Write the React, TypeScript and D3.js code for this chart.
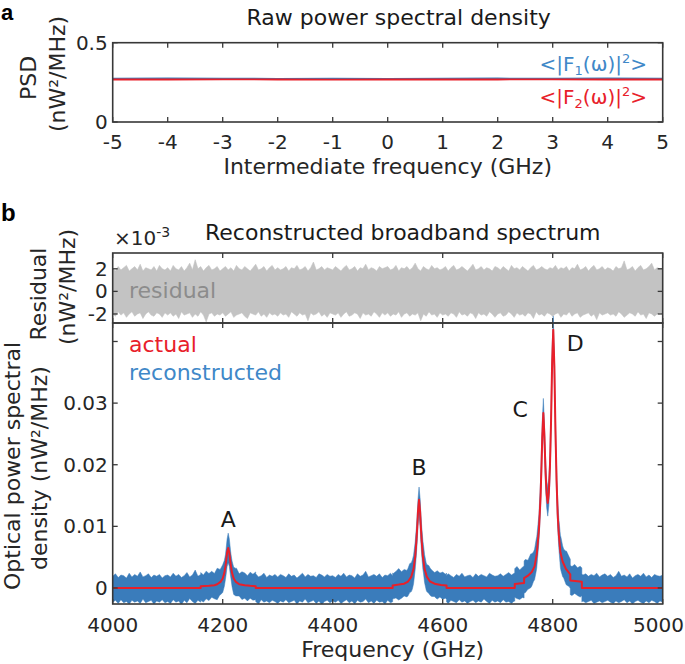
import React from 'react';
import * as d3 from 'd3';

const FONT = '"DejaVu Sans", Verdana, sans-serif';
const BLUE = '#3a7cbb';
const BLUE_TEXT = '#3f88c8';
const RED = '#e8202a';
const GRAY = '#c3c3c3';
const AXIS = '#383838';

// ---------- panel a : raw power spectral density ----------
const ifFreqGHz = [-5, -4, -3, -2, -1, 0, 1, 2, 3, 4, 5];
const psdF1 = [0.272, 0.273, 0.272, 0.271, 0.272, 0.271, 0.272, 0.273, 0.272, 0.273, 0.272];
const psdF2 = [0.268, 0.268, 0.269, 0.268, 0.267, 0.268, 0.268, 0.268, 0.269, 0.268, 0.268];
const ifTicks = [-5, -4, -3, -2, -1, 0, 1, 2, 3, 4, 5];
const psdTicks = [0, 0.5];
const psdTickLabels = ['0', '0.5'];

// ---------- panel b : reconstructed broadband spectrum ----------
const freqTicks = [4000, 4200, 4400, 4600, 4800, 5000];
const specTicks = [0, 10, 20, 30, 40]; // in 1e-3 nW²/MHz
const specTickLabels = ['0', '0.01', '0.02', '0.03', ''];
const resTicks = [-2, 0, 2];
const resTickLabels = ['-2', '0', '2'];

// actual spectrum (GHz, 1e-3 nW²/MHz)
const actualFreq = [
  4000, 4160, 4160, 4175, 4185, 4190, 4196, 4200, 4203, 4205, 4206, 4208, 4210, 4212, 4214, 4215, 4217, 4220, 4224, 4230, 4240, 4250, 4260, 4260,
  4509, 4509, 4520, 4530, 4537, 4543, 4547, 4550, 4552, 4554, 4555, 4557, 4559, 4560, 4562, 4564, 4567, 4571, 4577, 4587, 4597, 4607, 4607,
  4731, 4731, 4748, 4748, 4755, 4762, 4767, 4771, 4775, 4778, 4780, 4781, 4783, 4785, 4787, 4789, 4791, 4793, 4795, 4797, 4799, 4801,
  4803, 4805, 4807, 4809, 4811, 4814, 4818, 4824, 4832, 4832, 4853, 4853, 5000,
];
const actualVal = [
  0, 0, 0.3, 0.35, 0.45, 0.6, 0.98, 1.55, 2.45, 3.5, 4.2, 5.75, 6.5, 5.75, 4.2, 3.5, 2.45, 1.55, 0.98, 0.6, 0.45, 0.35, 0.3, 0,
  0, 0.42, 0.55, 0.7, 1.05, 1.85, 3.1, 5.1, 7.4, 10.3, 12.3, 14.3, 12.3, 10.3, 7.4, 5.1, 3.1, 1.85, 1.05, 0.64, 0.5, 0.42, 0,
  0, 0.65, 0.8, 1.6, 2.0, 2.6, 3.5, 5.5, 9.5, 15.0, 21.0, 24.5, 28.4, 24.5, 18.8, 15.2, 13.8, 15.6, 19.7, 27.0, 36.7, 41.9,
  36.0, 25.6, 17.5, 12.1, 8.8, 5.8, 4.3, 3.1, 2.2, 1.2, 1.0, 0, 0,
];

// noise envelope of the reconstructed spectrum around the actual one, every 5 GHz from 4000 GHz (1e-3 nW²/MHz)
const gridStart = 4000;
const gridStep = 5;
const reconNoiseUp = [
  1.9, 2.3, 1.7, 2.1, 2.0, 1.6, 2.4, 1.8, 2.2, 1.9, 2.6, 1.8, 2.0, 2.3, 1.7, 2.1, 1.9, 2.2, 1.6, 2.0,
  2.1, 1.8, 2.4, 1.9, 2.2, 1.7, 2.0, 2.5, 1.8, 2.1, 2.9, 1.9, 2.2, 1.8, 2.4, 2.0, 2.3, 1.9, 2.6, 2.1,
  2.2, 1.9, 2.4, 2.0, 1.8, 2.3, 1.7, 2.1, 2.0, 1.6, 2.2, 1.9, 2.3, 1.8, 2.0, 2.4, 1.7, 2.1, 1.9, 2.2,
  1.8, 2.2, 2.0, 1.7, 2.3, 1.9, 2.1, 1.6, 2.0, 2.4, 1.8, 2.2, 1.9, 2.0, 1.7, 2.3, 2.1, 1.8, 2.2, 1.9,
  2.0, 1.7, 2.2, 1.9, 2.4, 1.8, 2.1, 2.0, 1.6, 2.3, 1.9, 2.1, 2.7, 1.8, 2.0, 2.2, 1.9, 2.3, 1.7, 2.1,
  2.0, 2.4, 1.9, 2.2, 2.6, 2.0, 2.3, 1.9, 2.5, 2.1, 2.4, 2.0, 2.2, 2.6, 1.9, 2.3, 2.0, 1.8, 2.2, 1.9,
  2.1, 1.8, 2.3, 2.0, 1.7, 2.2, 1.9, 2.4, 1.8, 2.0, 2.1, 1.7, 2.3, 1.9, 2.2, 2.0, 1.8, 2.4, 2.1, 1.9,
  2.0, 2.3, 1.9, 2.2, 2.5, 2.1, 2.4, 2.8, 2.2, 2.6, 2.9, 2.5, 3.1, 2.7, 2.9, 2.4, 2.6, 2.2, 2.4, 2.0,
  2.3, 2.0, 2.5, 2.8, 2.4, 3.0, 2.6, 2.3, 2.7, 2.2, 2.5, 2.1, 2.3, 1.9, 2.2, 2.0, 2.4, 1.8, 2.1, 2.3,
  1.9, 2.2, 1.7, 2.0, 2.7, 1.9, 2.1, 1.8, 2.3, 1.6, 2.0, 2.2, 1.9, 2.4, 1.8, 2.1, 1.7, 2.2, 2.0, 1.9,
  2.1,
];
const reconNoiseDn = [
  2.3, 2.0, 2.5, 1.9, 2.4, 2.2, 2.6, 2.0, 2.3, 2.1, 2.5, 1.8, 2.4, 2.2, 2.0, 2.6, 2.1, 2.3, 1.9, 2.4,
  2.2, 2.5, 1.9, 2.3, 2.1, 2.7, 2.0, 2.4, 1.7, 2.2, 2.5, 2.0, 2.3, 2.6, 2.1, 2.4, 1.9, 2.2, 2.5, 2.0,
  2.3, 2.1, 2.4, 2.0, 2.6, 2.2, 1.9, 2.4, 2.1, 2.5, 2.0, 2.3, 2.2, 2.6, 1.9, 2.3, 2.1, 2.4, 2.0, 2.2,
  2.5, 2.1, 2.3, 1.9, 2.4, 2.2, 2.0, 2.6, 2.1, 2.3, 1.8, 2.4, 2.2, 2.0, 2.5, 2.1, 2.7, 2.2, 2.0, 2.4,
  2.1, 2.3, 2.0, 2.5, 2.2, 1.9, 2.4, 2.1, 2.6, 2.0, 2.3, 2.2, 1.8, 2.4, 2.1, 2.5, 2.0, 2.3, 2.2, 2.6,
  2.0, 2.4, 2.2, 2.1, 2.5, 2.3, 2.0, 2.4, 2.2, 2.6, 2.1, 2.3, 2.4, 2.0, 2.5, 2.2, 2.3, 2.1, 2.4, 2.0,
  2.3, 2.1, 2.5, 2.0, 2.2, 2.4, 1.9, 2.3, 2.1, 2.5, 2.2, 2.0, 2.4, 2.1, 2.3, 1.8, 2.2, 2.5, 2.0, 2.3,
  2.1, 2.4, 1.9, 2.3, 2.2, 2.5, 2.1, 2.4, 2.6, 2.3, 2.5, 2.2, 2.4, 2.1, 2.3, 2.0, 2.2, 2.4, 2.1, 2.3,
  2.2, 2.4, 2.1, 2.6, 2.3, 2.5, 2.2, 2.4, 2.0, 2.3, 2.5, 2.1, 2.4, 2.2, 2.0, 2.5, 2.3, 2.1, 2.4, 2.2,
  2.0, 2.3, 2.5, 2.1, 2.4, 2.2, 1.9, 2.4, 2.1, 2.6, 2.2, 2.0, 2.3, 2.5, 2.1, 2.4, 2.0, 2.2, 2.5, 2.1,
  2.3,
];
// residual envelope, every 5 GHz (1e-3 nW²/MHz)
const residualUp = [
  2.0, 1.8, 2.2, 1.9, 2.1, 2.3, 1.8, 2.0, 2.2, 1.9, 2.4, 1.8, 2.1, 2.0, 1.9, 2.2, 1.8, 2.3, 2.0, 1.9,
  2.1, 1.8, 2.3, 2.0, 1.9, 2.2, 1.8, 2.1, 2.5, 1.9, 2.8, 2.0, 2.2, 1.8, 2.1, 2.3, 1.9, 2.0, 2.2, 1.8,
  2.0, 2.2, 1.9, 2.1, 1.8, 2.3, 2.0, 1.9, 2.2, 2.0, 1.8, 2.1, 2.4, 1.9, 2.0, 2.2, 1.8, 2.1, 2.3, 1.9,
  2.1, 1.9, 2.0, 2.2, 1.8, 2.1, 2.0, 2.3, 1.9, 2.0, 2.2, 1.8, 2.1, 2.6, 1.9, 2.0, 2.2, 1.9, 2.1, 2.0,
  1.9, 2.2, 2.0, 1.8, 2.1, 2.3, 1.9, 2.0, 2.2, 1.8, 2.1, 2.0, 2.4, 1.9, 2.1, 2.0, 1.8, 2.2, 2.0, 2.1,
  2.2, 1.9, 2.0, 2.3, 1.8, 2.1, 2.0, 2.2, 1.9, 2.1, 2.5, 2.0, 1.8, 2.2, 2.0, 1.9, 2.3, 2.0, 2.1, 1.9,
  2.0, 2.2, 1.8, 2.1, 2.3, 1.9, 2.0, 2.2, 2.0, 1.8, 2.1, 2.4, 1.9, 2.0, 2.2, 1.9, 2.1, 2.0, 1.8, 2.2,
  2.1, 1.9, 2.2, 2.0, 1.8, 2.3, 2.0, 2.1, 1.9, 2.2, 2.0, 1.8, 2.1, 2.3, 1.9, 2.0, 2.2, 2.0, 1.9, 2.1,
  2.0, 2.3, 1.9, 2.1, 2.0, 2.2, 1.8, 2.1, 2.0, 2.4, 1.9, 2.0, 2.2, 1.8, 2.1, 2.3, 1.9, 2.0, 2.2, 1.9,
  2.1, 2.0, 1.8, 2.2, 2.0, 2.1, 2.7, 1.9, 2.0, 2.2, 1.8, 2.1, 2.3, 1.9, 2.0, 2.2, 2.5, 1.9, 2.1, 2.0,
  2.0,
];
const residualDn = [
  -2.0, -2.2, -1.8, -2.1, -1.9, -2.3, -2.0, -1.8, -2.2, -2.0, -1.9, -2.4, -2.0, -1.8, -2.1, -2.2, -1.9, -2.0, -2.3, -1.9,
  -2.1, -1.9, -2.2, -2.0, -2.4, -1.8, -2.1, -2.0, -1.9, -2.3, -2.0, -2.2, -1.8, -2.1, -2.7, -2.0, -1.9, -2.2, -2.0, -2.1,
  -1.9, -2.2, -2.0, -1.8, -2.3, -2.1, -2.0, -1.9, -2.2, -2.4, -1.9, -2.0, -2.1, -1.8, -2.2, -2.0, -2.3, -1.9, -2.1, -2.0,
  -2.2, -1.9, -2.1, -2.0, -2.3, -1.8, -2.0, -2.2, -1.9, -2.1, -2.0, -2.6, -1.9, -2.1, -2.0, -1.8, -2.2, -2.0, -2.3, -1.9,
  -2.0, -2.1, -1.9, -2.3, -2.0, -1.8, -2.2, -2.1, -1.9, -2.0, -2.4, -1.9, -2.1, -2.0, -2.2, -1.8, -2.0, -2.3, -1.9, -2.1,
  -1.9, -2.2, -2.0, -2.1, -1.8, -2.3, -2.0, -1.9, -2.2, -2.0, -2.1, -1.9, -2.6, -2.0, -2.2, -1.8, -2.1, -2.0, -2.3, -1.9,
  -2.1, -2.0, -2.2, -1.9, -2.0, -2.3, -1.8, -2.1, -2.0, -2.2, -1.9, -2.0, -2.4, -1.9, -2.1, -2.0, -2.2, -1.8, -2.0, -2.3,
  -2.0, -1.9, -2.2, -2.1, -1.8, -2.0, -2.3, -1.9, -2.1, -2.0, -2.2, -1.9, -2.0, -2.4, -1.8, -2.1, -2.0, -2.2, -1.9, -2.0,
  -2.2, -2.0, -1.9, -2.3, -2.0, -2.1, -1.8, -2.2, -2.0, -1.9, -2.3, -2.1, -2.0, -1.9, -2.2, -2.0, -2.5, -1.9, -2.1, -2.0,
  -1.9, -2.1, -2.0, -2.2, -1.8, -2.0, -2.3, -2.1, -1.9, -2.0, -2.2, -1.8, -2.1, -2.0, -2.4, -1.9, -2.0, -2.2, -2.0, -1.9,
  -2.0,
];

const peakNames = ['A', 'B', 'C', 'D'];
const peakNameFreq = [4210, 4557, 4741, 4841];
const peakNameVal = [9.9, 18.3, 27.8, 38.5];

// ---------- layout ----------
const W = 685;
const H = 664;
const X0 = 112.7;
const X1 = 662.7;
const A_TOP = 42.7;
const A_BOT = 122;
const R_TOP = 253;
const R_BOT = 323;
const M_TOP = 323;
const M_BOT = 604;
const TICK = 5;

const xA = d3.scaleLinear().domain([-5, 5]).range([X0, X1]);
const yA = d3.scaleLinear().domain([0, 0.5]).range([A_BOT, A_TOP]);
const xB = d3.scaleLinear().domain([4000, 5000]).range([X0, X1]);
const yR = d3.scaleLinear().domain([-2.8, 3.4]).range([R_BOT, R_TOP]);
const yM = d3.scaleLinear().domain([-2.6, 43]).range([M_BOT, M_TOP]);

function interpAt(fs: number[], vs: number[], f: number) {
  const n = fs.length;
  const i = d3.bisectRight(fs, f);
  if (i <= 0) return vs[0];
  if (i >= n) return vs[n - 1];
  const f0 = fs[i - 1];
  const f1 = fs[i];
  if (f1 === f0) return vs[i];
  return vs[i - 1] + ((vs[i] - vs[i - 1]) * (f - f0)) / (f1 - f0);
}
const gridFreq = reconNoiseUp.map((_, i) => gridStart + i * gridStep);

type BandPt = { f: number; lo: number; hi: number };
const reconBand: BandPt[] = (() => {
  const pts: { f: number; v: number }[] = [];
  actualFreq.forEach((f, i) => pts.push({ f, v: actualVal[i] }));
  gridFreq.forEach((f) => pts.push({ f, v: interpAt(actualFreq, actualVal, f) }));
  pts.sort((a, b) => a.f - b.f);
  return pts.map((p) => ({
    f: p.f,
    hi: p.v + interpAt(gridFreq, reconNoiseUp, p.f),
    lo: p.v - interpAt(gridFreq, reconNoiseDn, p.f),
  }));
})();
const resBand: BandPt[] = gridFreq.map((f, i) => ({ f, lo: residualDn[i], hi: residualUp[i] }));

const reconArea = d3
  .area<BandPt>()
  .x((d) => xB(d.f))
  .y0((d) => yM(d.lo))
  .y1((d) => yM(d.hi));
const resArea = d3
  .area<BandPt>()
  .x((d) => xB(d.f))
  .y0((d) => yR(d.lo))
  .y1((d) => yR(d.hi));
const actualLine = d3
  .line<number>()
  .x((_, i) => xB(actualFreq[i]))
  .y((v) => yM(v));
const psdLine = d3
  .line<number>()
  .x((_, i) => xA(ifFreqGHz[i]))
  .y((v) => yA(v));

function Box({ x0, x1, y0, y1 }: { x0: number; x1: number; y0: number; y1: number }) {
  return <rect x={x0} y={y0} width={x1 - x0} height={y1 - y0} fill="none" stroke={AXIS} strokeWidth={1.6} />;
}

function XTicks({ scale, ticks, y0, y1 }: { scale: any; ticks: number[]; y0: number; y1: number }) {
  return (
    <g stroke={AXIS} strokeWidth={1.3}>
      {ticks.map((t) => (
        <g key={t}>
          <line x1={scale(t)} x2={scale(t)} y1={y1} y2={y1 - TICK} />
          <line x1={scale(t)} x2={scale(t)} y1={y0} y2={y0 + TICK} />
        </g>
      ))}
    </g>
  );
}
function YTicks({ scale, ticks }: { scale: any; ticks: number[] }) {
  return (
    <g stroke={AXIS} strokeWidth={1.3}>
      {ticks.map((t) => (
        <g key={t}>
          <line x1={X0} x2={X0 + TICK} y1={scale(t)} y2={scale(t)} />
          <line x1={X1} x2={X1 - TICK} y1={scale(t)} y2={scale(t)} />
        </g>
      ))}
    </g>
  );
}

const TICK_FS = 20;
const LABEL_FS = 22;
const LEG_FS = 20;

function FLegend({ idx, y, color }: { idx: string; y: number; color: string }) {
  return (
    <text x={647} y={y} fontSize={LEG_FS} textAnchor="end" fill={color}>
      {'<|F'}
      <tspan fontSize={13} dy={4}>{idx}</tspan>
      <tspan dy={-4}>{'(ω)|'}</tspan>
      <tspan fontSize={13} dy={-8}>2</tspan>
      <tspan dy={8}>{'>'}</tspan>
    </text>
  );
}

export default function App() {
  return (
    <svg
      width={W}
      height={H}
      viewBox={`0 0 ${W} ${H}`}
      style={{ position: 'absolute', left: 0, top: 0, display: 'block', background: '#fff' }}
      fontFamily={FONT}
    >
      <defs>
        <clipPath id="clipA">
          <rect x={X0} y={A_TOP} width={X1 - X0} height={A_BOT - A_TOP} />
        </clipPath>
        <clipPath id="clipR">
          <rect x={X0} y={R_TOP} width={X1 - X0} height={R_BOT - R_TOP} />
        </clipPath>
        <clipPath id="clipM">
          <rect x={X0} y={R_TOP + 40} width={X1 - X0} height={M_BOT - R_TOP - 40} />
        </clipPath>
      </defs>

      {/* ---------------- panel a ---------------- */}
      <text x={1} y={20} fontSize={22} fontWeight="bold" fontFamily='"Liberation Sans", Arial, sans-serif'>a</text>
      <text x={(X0 + X1) / 2 + 11} y={25} fontSize={LABEL_FS} textAnchor="middle" fill="#1a1a1a">
        Raw power spectral density
      </text>
      <g clipPath="url(#clipA)">
        <path d={psdLine(psdF1) || ''} fill="none" stroke={BLUE} strokeWidth={2.2} />
        <path d={psdLine(psdF2) || ''} fill="none" stroke={RED} strokeWidth={1.8} />
      </g>
      <XTicks scale={xA} ticks={ifTicks} y0={A_TOP} y1={A_BOT} />
      <YTicks scale={yA} ticks={psdTicks} />
      <Box x0={X0} x1={X1} y0={A_TOP} y1={A_BOT} />
      <g fontSize={TICK_FS} fill="#262626">
        {ifTicks.map((t) => (
          <text key={t} x={xA(t)} y={A_BOT + 27} textAnchor="middle">
            {t}
          </text>
        ))}
        {psdTicks.map((t, i) => (
          <text key={t} x={X0 - 5} y={yA(t) + 7} textAnchor="end">
            {psdTickLabels[i]}
          </text>
        ))}
      </g>
      <text x={(X0 + X1) / 2} y={174} fontSize={LABEL_FS} textAnchor="middle" fill="#262626">
        Intermediate frequency (GHz)
      </text>
      <text transform={`translate(36,78) rotate(-90)`} fontSize={LABEL_FS} textAnchor="middle" fill="#262626">
        PSD
      </text>
      <text transform={`translate(65,74) rotate(-90)`} fontSize={LABEL_FS} textAnchor="middle" fill="#262626">
        (nW²/MHz)
      </text>
      <FLegend idx="1" y={71} color={BLUE_TEXT} />
      <FLegend idx="2" y={104} color={RED} />

      {/* ---------------- panel b ---------------- */}
      <text x={1} y={221} fontSize={24} fontWeight="bold" fontFamily='"Liberation Sans", Arial, sans-serif'>b</text>
      <text x={205} y={240} fontSize={LABEL_FS} fill="#1a1a1a">
        Reconstructed broadband spectrum
      </text>
      <text x={114} y={245} fontSize={TICK_FS} fill="#262626">
        ×10
        <tspan fontSize={14} dy={-8}>-3</tspan>
      </text>

      {/* residual */}
      <g clipPath="url(#clipR)">
        <path d={resArea(resBand) || ''} fill={GRAY} stroke={GRAY} strokeWidth={0.6} />
      </g>
      <text x={129} y={298} fontSize={LABEL_FS} fill="#8c8c8c">
        residual
      </text>
      <XTicks scale={xB} ticks={freqTicks} y0={R_TOP} y1={R_BOT} />
      <YTicks scale={yR} ticks={resTicks} />
      <Box x0={X0} x1={X1} y0={R_TOP} y1={R_BOT} />
      <g fontSize={TICK_FS} fill="#262626">
        {resTicks.map((t, i) => (
          <text key={t} x={X0 - 5} y={yR(t) + 7} textAnchor="end">
            {resTickLabels[i]}
          </text>
        ))}
      </g>
      <text transform={`translate(46,294) rotate(-90)`} fontSize={LABEL_FS} textAnchor="middle" fill="#262626">
        Residual
      </text>
      <text transform={`translate(75,287) rotate(-90)`} fontSize={LABEL_FS} textAnchor="middle" fill="#262626">
        (nW²/MHz)
      </text>

      {/* main spectrum */}
      <g clipPath="url(#clipM)">
        <path d={reconArea(reconBand) || ''} fill={BLUE} stroke={BLUE} strokeWidth={0.5} />
        <path d={actualLine(actualVal) || ''} fill="none" stroke={RED} strokeWidth={2} strokeLinejoin="round" />
      </g>
      <XTicks scale={xB} ticks={freqTicks} y0={M_TOP} y1={M_BOT} />
      <YTicks scale={yM} ticks={specTicks} />
      <Box x0={X0} x1={X1} y0={M_TOP} y1={M_BOT} />
      <g fontSize={TICK_FS} fill="#262626">
        {freqTicks.map((t, i) =>
          i === freqTicks.length - 1 ? (
            <text key={t} x={W - 1} y={M_BOT + 28} textAnchor="end">
              {t}
            </text>
          ) : (
            <text key={t} x={xB(t)} y={M_BOT + 28} textAnchor="middle">
              {t}
            </text>
          )
        )}
        {specTicks.map((t, i) => (
          <text key={t} x={X0 - 5} y={yM(t) + 7} textAnchor="end">
            {specTickLabels[i]}
          </text>
        ))}
      </g>
      <text x={129} y={352} fontSize={LABEL_FS} fill={RED}>
        actual
      </text>
      <text x={129} y={380} fontSize={LABEL_FS} fill={BLUE_TEXT}>
        reconstructed
      </text>
      <g fontSize={LABEL_FS} fill="#1a1a1a" textAnchor="middle">
        {peakNames.map((n, i) => (
          <text key={n} x={xB(peakNameFreq[i])} y={yM(peakNameVal[i])}>
            {n}
          </text>
        ))}
      </g>
      <text x={(X0 + X1) / 2 + 5} y={657} fontSize={LABEL_FS} textAnchor="middle" fill="#262626">
        Frequency (GHz)
      </text>
      <text transform={`translate(20,466) rotate(-90)`} fontSize={LABEL_FS} textAnchor="middle" fill="#262626">
        Optical power spectral
      </text>
      <text transform={`translate(47,468) rotate(-90)`} fontSize={LABEL_FS} textAnchor="middle" fill="#262626">
        density (nW²/MHz)
      </text>
    </svg>
  );
}
